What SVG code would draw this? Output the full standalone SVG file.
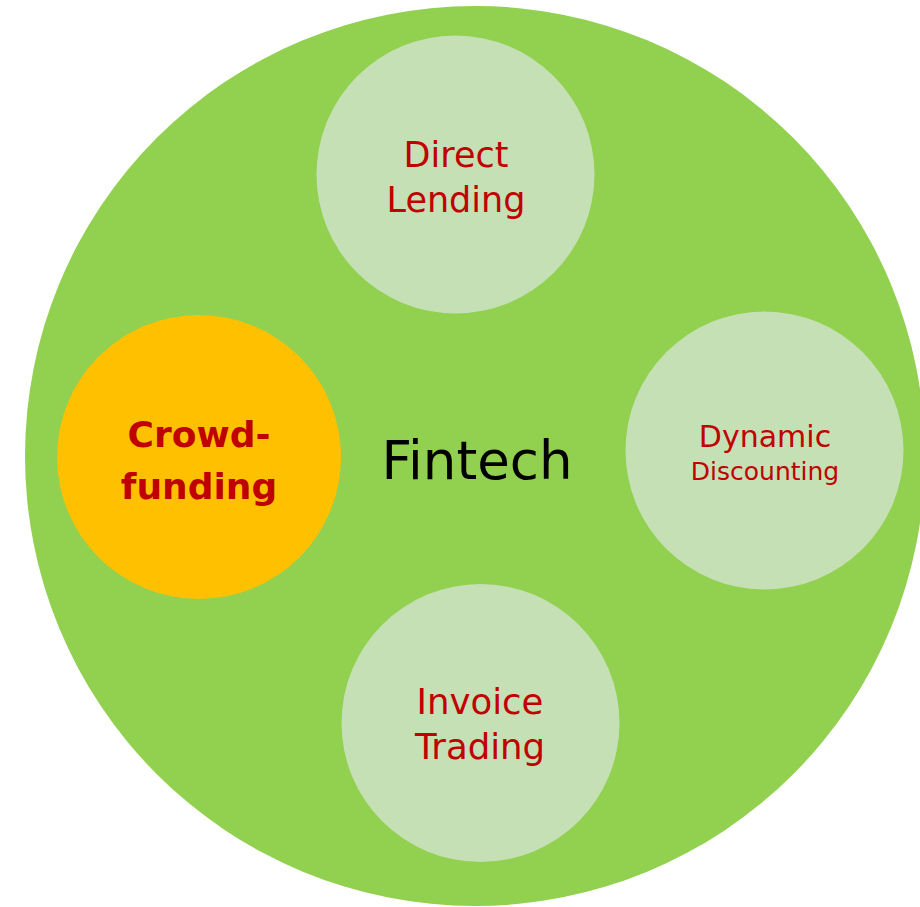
<svg xmlns="http://www.w3.org/2000/svg" width="920" height="907" viewBox="0 0 920 907">
<style>
.sub{fill:#C5E0B4}
.lbl{font-family:"DejaVu Sans","Liberation Sans",sans-serif;fill:#C00000;text-anchor:middle}
</style>
<rect width="920" height="907" fill="#FFFFFF"/>
<g id="fintech">
<circle cx="475" cy="456" r="450" fill="#92D050"/>
<text x="477" y="479" font-family="DejaVu Sans, Liberation Sans, sans-serif" font-size="53" fill="#000000" text-anchor="middle">Fintech</text>
</g>
<g id="direct-lending">
<circle class="sub" cx="455.5" cy="174.5" r="139"/>
<text class="lbl" font-size="35"><tspan x="456" y="167">Direct</tspan><tspan x="456" y="212">Lending</tspan></text>
</g>
<g id="dynamic-discounting">
<circle class="sub" cx="764.5" cy="450.5" r="139"/>
<text class="lbl"><tspan x="765" y="447" font-size="30">Dynamic</tspan><tspan x="765" y="480" font-size="25">Discounting</tspan></text>
</g>
<g id="invoice-trading">
<circle class="sub" cx="480.5" cy="723" r="139"/>
<text class="lbl" font-size="35.5"><tspan x="480" y="714">Invoice</tspan><tspan x="480" y="759">Trading</tspan></text>
</g>
<g id="crowdfunding">
<circle cx="199" cy="457" r="142" fill="#FFC000"/>
<text class="lbl" font-size="36" font-weight="bold"><tspan x="199" y="447">Crowd-</tspan><tspan x="199" y="499">funding</tspan></text>
</g>
<g id="connectors"/>
</svg>
